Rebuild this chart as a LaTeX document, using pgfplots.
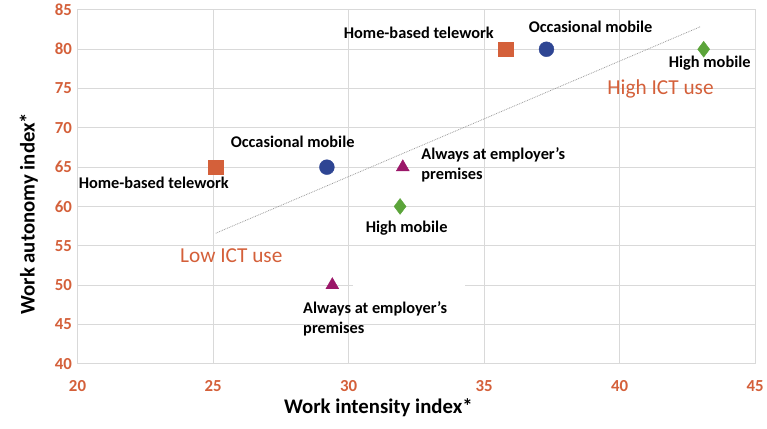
\documentclass[border=0pt]{standalone}
\usepackage{pgfplots}
\pgfplotsset{compat=1.18}
\usepackage{fontspec}
\setmainfont{Carlito}
\definecolor{ictorange}{HTML}{D4603A}
\definecolor{occblue}{HTML}{2E4593}
\definecolor{mobgreen}{HTML}{5BA43A}
\definecolor{empurple}{HTML}{9B1769}
\definecolor{gridgray}{HTML}{D9D9D9}
\begin{document}
\begin{tikzpicture}[x=1bp,y=1bp]
\begin{axis}[
  at={(0,0)}, anchor=south west,
  scale only axis, width=682bp, height=356bp,
  xmin=20, xmax=45, ymin=40, ymax=85,
  xtick={20,25,...,45}, ytick={40,45,...,85},
  grid=major, major grid style={gridgray, line width=1pt},
  axis line style={gridgray, line width=1pt},
  tick style={draw=none},
  /pgf/number format/assume math mode=true,
  ticklabel style={font=\fontsize{17}{17}\selectfont\bfseries, text=ictorange},
  xticklabel style={yshift=-13bp},
  yticklabel style={xshift=-2bp},
  xlabel={Work intensity index*},
  ylabel={Work autonomy index*},
  every axis x label/.style={at={(axis description cs:0.444,-0.124)}, anchor=center,
    font=\fontsize{21}{21}\selectfont\bfseries},
  every axis y label/.style={at={(axis description cs:-0.072,0.424)}, anchor=center, rotate=90,
    font=\fontsize{21}{21}\selectfont\bfseries},
  clip=false,
]
% white gap behind the lower label, as in the source
\fill[white] (axis cs:30.15,49.5) rectangle (axis cs:34.3,50.5);
% trend line
\addplot[gray!80, densely dotted, line width=0.8pt] coordinates {(25.1,56.6) (43.0,82.9)};
% home-based telework
\addplot[only marks, mark=square*, mark size=7.5bp, color=ictorange] coordinates {(25.1,65) (35.8,80)};
% occasional mobile
\addplot[only marks, mark=*, mark size=7.5bp, color=occblue] coordinates {(29.2,65) (37.3,80)};
% high mobile
\addplot[only marks, mark=diamond*, mark size=8bp, color=mobgreen] coordinates {(31.9,60) (43.1,80)};
% always at employer's premises
\addplot[only marks, mark=triangle*, mark size=7.5bp, color=empurple] coordinates {(32.0,65) (29.4,50)};

\begin{scope}[every node/.style={font=\fontsize{16.5}{20}\selectfont\bfseries, anchor=west, inner sep=0pt}]
\node at (axis cs:29.82,82.1) {Home-based telework};
\node at (axis cs:36.64,82.9) {Occasional mobile};
\node at (axis cs:41.81,78.2) {High mobile};
\node at (axis cs:25.65,68.2) {Occasional mobile};
\node at (axis cs:20.04,63.0) {Home-based telework};
\node[align=left] at (axis cs:32.68,65.3) {Always at employer’s\\premises};
\node at (axis cs:30.63,57.3) {High mobile};
\node[align=left] at (axis cs:28.32,45.75) {Always at employer’s\\premises};
\end{scope}
\begin{scope}[every node/.style={font=\fontsize{21.5}{21.5}\selectfont, text=ictorange, anchor=west, inner sep=0pt}]
\node at (axis cs:39.54,75.0) {High ICT use};
\node at (axis cs:23.78,53.8) {Low ICT use};
\end{scope}
\end{axis}
\useasboundingbox (-78bp,-65bp) rectangle (689bp,366bp);
\end{tikzpicture}
\end{document}
